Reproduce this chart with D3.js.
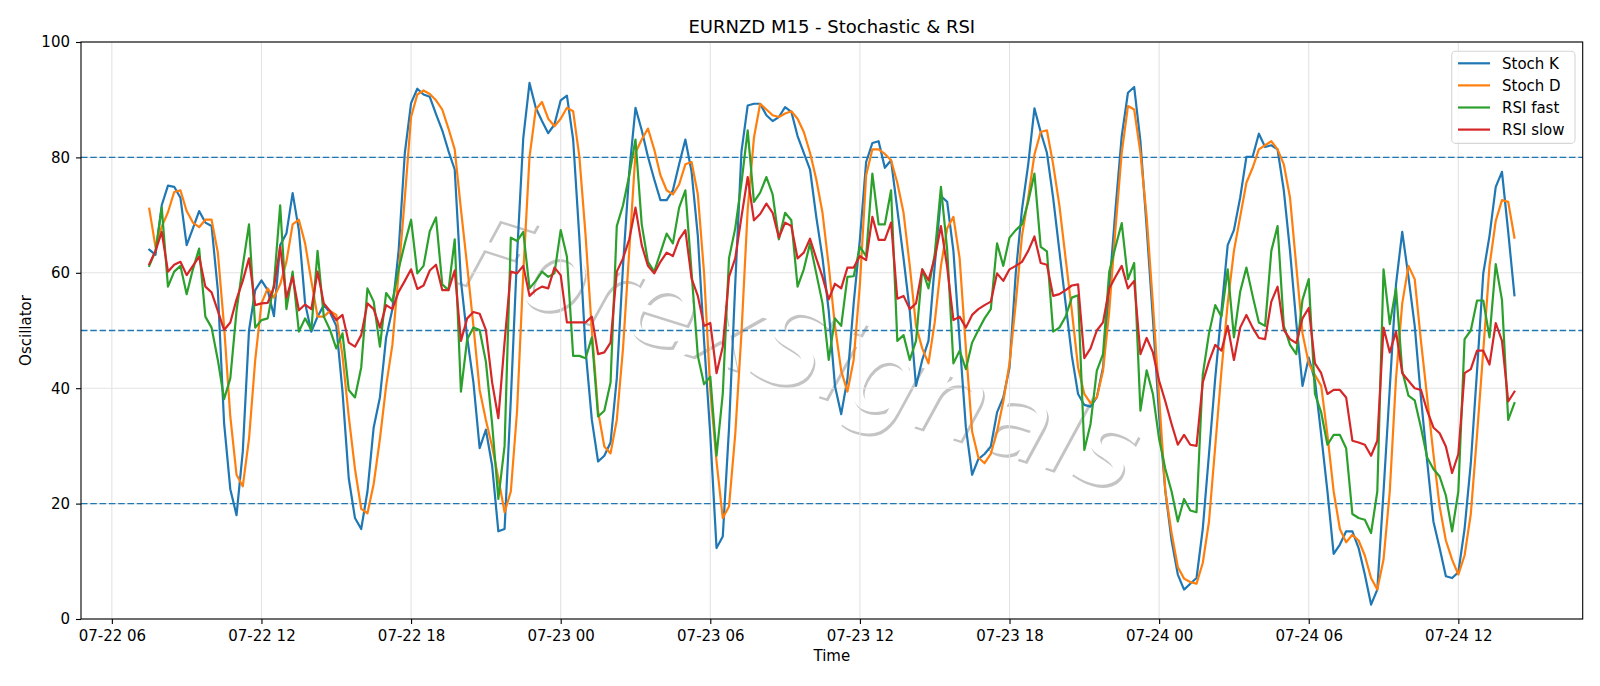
<!DOCTYPE html>
<html><head><meta charset="utf-8">
<script src="https://cdn.jsdelivr.net/npm/d3@7"></script>
<style>
body{margin:0;background:#fff}
svg{display:block}
text{font-family:"DejaVu Sans",sans-serif;fill:#000}
</style>
</head><body><svg id="chart" width="1600" height="686"></svg>
<script>
// ---------------- data ----------------
const startTime = "2024-07-22T07:30:00Z";
const stepMinutes = 15;
const stochK = [64.0,63.1,71.7,75.1,74.9,73.0,64.8,67.7,70.7,68.7,68.1,57,34,22.5,18,29,50,57,58.7,57,
52.5,64.8,66.8,73.8,67.4,54.7,49.8,52.4,54.4,53.1,50.8,39.4,24.4,17.5,15.6,22.1,33.2,38.4,48.8,53.7,
63.8,80.8,89.4,91.9,90.9,90.5,87.5,84.7,81.1,77.9,58.6,48.8,41.0,29.6,32.8,26.6,15.2,15.6,38,63,
83.4,92.9,88.6,86.3,84.2,85.7,89.9,90.7,83.1,66,46.5,34.5,27.3,28.3,30.6,41.7,61.2,77.5,88.6,84.7,
80.1,76.2,72.6,72.6,74.3,78.8,83.1,77.5,66.4,48.2,31.9,12.3,14.3,33,58,81,89,89.3,89.3,87.3,
86.3,87.0,88.7,87.9,83.7,80.8,77.9,69.7,62.6,53.4,40.4,35.5,41.6,54.7,65.8,79.2,82.5,82.8,78.2,79.5,
71.0,62.5,53.4,40.4,44.9,48.2,61.2,73.3,72.3,63.8,48.2,33.2,25.0,27.7,28.6,29.9,35.8,38.4,43.6,59.9,
71.0,78.8,88.5,84.4,80.8,73.0,63.8,54.7,45.6,39.0,37.1,36.8,38.4,43.6,57.3,71.0,83.7,91.2,92.2,82.8,
67.8,52.1,35.1,22.1,13.6,7.7,5.1,6.1,7.1,15.6,28.6,41.7,53.4,64.8,67.4,73.0,80.1,80.1,84.1,81.8,
82.1,81.4,74.3,63.8,51.4,40.4,45.3,41.3,31.9,22.1,11.3,12.9,15.2,15.2,12.3,7.7,2.5,5.1,22.1,40,
58,67.1,59.3,50.8,38.4,27.3,16.9,12.3,7.4,7.1,8.1,15.6,27,43,59.9,66.4,74.9,77.5,67.1,56.1];
const stochD = [71.1,64.5,68.0,70.5,74.0,74.3,70.7,68.7,67.9,69.2,69.2,63.5,50.8,35.1,25.0,23.0,31.2,44.9,54.7,57.3,
55.7,58.0,61.9,68.4,69.2,65.1,58.6,52.4,52.4,53.4,52.7,45.6,35.1,26.0,19.1,18.3,23.4,31.2,40.4,47.5,
59.9,73.0,87.0,90.9,91.6,91.0,89.9,88.3,85.0,81.4,71.0,61.2,50.8,39.7,34.5,29.9,24.4,18.5,22.1,36,
60,80.1,88.3,89.6,86.7,85.4,86.7,88.6,88.0,80.1,66.4,50,36,29.9,28.7,34.5,46.9,63.8,80.8,83.1,
85.0,81.4,76.9,74.3,73.6,75.3,78.8,79.2,73.6,60.0,39.7,27.3,17.5,19.5,32,49.5,71.0,83.4,89.3,88.3,
87.3,87.0,87.6,88.0,86.7,84.4,80.8,76.2,70.4,61.2,50.8,43.0,39.4,44.9,58.0,76.9,81.4,81.4,80.6,79.5,
75.6,70.4,61.2,50.8,46.9,44.3,51.4,61.2,67.7,69.7,62.5,46.9,32.5,28.0,27.0,28.6,32.5,37.7,44.3,54.7,
66.4,73.0,80.5,84.4,84.7,78.8,71.7,62.5,53.4,43.6,39.0,37.4,38.4,43.0,53.4,67.7,80.8,88.9,88.3,80.8,
69.7,54.7,38.4,22.1,14.9,9.0,7.0,6.4,6.1,9.7,16.9,29.9,43.0,54.7,63.8,69.7,75.6,78.2,81.4,82.1,
82.8,81.4,78.8,73.0,61.2,49.5,44.3,42.3,40.4,31.9,22.1,15.6,13.3,14.6,13.6,11.0,7.1,5.1,10.3,22.1,
41.7,54.7,61.2,58.9,48.2,38.4,28.6,19.5,13.6,10.3,7.7,11.0,18.2,31.9,46.5,61.2,69.0,72.6,72.3,66.1];
const rsiFast = [61.2,63.8,71.3,57.6,60.2,61.2,56.3,60.6,64.2,52.4,50.5,44.9,38.1,41.7,53.4,61.2,68.4,50.5,51.8,52.1,
58,71.7,53.7,60.2,49.8,52.1,50.1,63.8,52.4,50.1,46.9,49.5,39.7,38.4,43.6,57.3,55.0,47.2,56.5,55.0,
60.6,65.1,69.2,59.9,61.2,67.2,69.6,58.0,57.0,65.8,39.4,48.5,50.5,50.1,44.6,33.8,20.8,30,66.1,65.5,
67.1,57.3,58.6,60.2,59.3,59.9,67.4,62.8,45.6,45.6,45.2,48.8,35.1,36.1,41.0,68.1,71.7,76.9,83.1,68.4,
61.9,60.2,63.5,66.8,65.1,71.3,74.3,60,45.6,40.7,42.0,28.3,39.0,62.5,67.7,75.6,84.7,72.3,73.9,76.6,
73.6,65.8,70.4,69.1,57.6,60.6,65.1,59.9,54.7,44.9,52.1,50.8,59.3,59.4,64.5,62.9,77.2,68.4,68.4,74.3,
48.2,49.2,44.9,48.2,60.6,57.3,63.2,74.9,64,44.3,46.5,43.3,47.9,50.1,52.1,53.7,65.1,61.2,66.1,67.4,
68.4,72.3,77.2,64.5,63.7,49.8,50.5,52.4,55.7,56.1,29.3,33.8,43.0,45.9,60.2,64.5,68.6,58.9,61.7,36.1,
43.1,39.0,31.2,26.0,22.1,16.9,20.8,18.8,18.5,42.3,49.5,54.4,52.4,60.6,48.8,56.7,60.9,56.0,51.4,50.8,
63.8,68.1,50.8,47.5,45.9,55.3,58.9,39.0,35.8,30.2,31.9,31.9,29.6,18.2,17.5,17.2,14.9,22.1,60.6,51.1,
57.3,43.0,38.7,37.9,33.2,28,26.0,24.7,21.4,15.2,22.1,48.5,50,55.2,55.2,48.8,61.5,55.3,34.5,37.4];
const rsiSlow = [61.5,63.8,67.1,60.2,61.4,61.9,59.6,61.2,62.8,57.6,56.6,53.4,50.1,51.4,55.4,58.6,62.5,54.4,54.7,54.8,
57.5,64.5,55.7,59.3,53.5,54.5,53.7,60.2,54.7,53.4,51.8,52.7,47.9,47.2,49.2,54.7,53.7,50.5,54.4,53.7,
56.7,58.6,60.6,57.2,57.8,60.4,61.4,57.0,57.0,60.4,48.2,52.1,53.2,52.9,50.1,41.0,34.8,48,60.2,59.9,
61.2,56.0,57.0,57.6,57.3,60.9,59.6,51.4,51.4,51.4,51.4,52.4,45.9,46.2,47.9,60.2,62.5,65.8,71.3,64.8,
61.2,59.9,61.9,63.5,62.9,65.8,67.4,59,56.0,50.8,51.3,42.6,47.2,59.3,62.5,69.7,76.6,69.1,70.2,72.0,
70.4,66.1,68.7,68.1,62.5,63.5,65.9,62.5,59.3,55.4,58.1,57.3,60.9,60.9,62.9,62.2,69.7,65.7,65.7,68.7,
55.5,56.0,53.7,54.7,60.6,58.7,62.5,68.1,61,51.8,52.4,50.5,52.7,53.7,54.4,55.0,59.9,58.6,60.6,61.2,
61.9,63.8,66.3,61.7,61.4,56.0,56.3,57.0,57.8,58.0,45.2,46.9,50.0,51.4,57.3,59.3,61.2,57.3,58.6,45.9,
48.7,46.2,41.3,37.7,33.8,30.2,31.9,30.2,30.0,41.0,44.6,47.5,46.5,50.8,44.9,50.5,52.7,50.5,48.7,48.5,
55.0,57.6,50.1,48.5,47.8,52.1,53.9,44.3,42.6,39.0,39.7,39.7,38.4,30.9,30.6,30.2,28.3,30.9,50.5,46.2,
49.8,42.6,41.3,40.0,39.7,36.1,33.2,32.2,29.9,25.3,28.6,42.6,43.3,46.5,46.5,44.1,51.3,48.2,37.7,39.4];
const levelLines = [20, 50, 80];
const yTickValues = [0, 20, 40, 60, 80, 100];
const seriesNames = ["Stoch K", "Stoch D", "RSI fast", "RSI slow"];
const titleText = "EURNZD M15 - Stochastic & RSI";
const xLabelText = "Time";
const yLabelText = "Oscillator";
const watermarkText = "ForexSignals";

// ---------------- chart ----------------
const W = 1600, H = 686;
const m = {left: 81, right: 17.3, top: 42, bottom: 67};
const colors = ["#1f77b4", "#ff7f0e", "#2ca02c", "#d62728"];
const svg = d3.select("#chart");

const t0 = new Date(startTime).getTime();
const times = stochK.map((_, i) => new Date(t0 + i * stepMinutes * 60000));
const ext = d3.extent(times);
const pad = (ext[1] - ext[0]) * 0.05;
const x = d3.scaleUtc().domain([new Date(+ext[0] - pad), new Date(+ext[1] + pad)]).range([m.left, W - m.right]);
const y = d3.scaleLinear().domain([0, 100]).range([H - m.bottom, m.top]);

const xTicks = x.ticks(d3.utcHour.every(6));

// watermark
const wm = svg.append("g").attr("transform", "translate(788,386) rotate(17.5)");
wm.append("text").attr("x", 2.5).attr("y", 2.5).attr("text-anchor", "middle")
  .style("font-size", "110px").style("font-style", "italic").style("fill", "#8a8a8a").style("opacity", 0.5)
  .text(watermarkText);
wm.append("text").attr("x", 0).attr("y", 0).attr("text-anchor", "middle")
  .style("font-size", "110px").style("font-style", "italic").style("fill", "#ffffff")
  .text(watermarkText);

// grid
const grid = svg.append("g");
grid.selectAll(".vg").data(xTicks).join("line")
  .attr("x1", d => x(d)).attr("x2", d => x(d)).attr("y1", y(0)).attr("y2", y(100))
  .attr("stroke", "#e3e3e3").attr("stroke-width", 1.1);
grid.selectAll(".hg").data(yTickValues).join("line")
  .attr("x1", m.left).attr("x2", W - m.right).attr("y1", d => y(d)).attr("y2", d => y(d))
  .attr("stroke", "#e3e3e3").attr("stroke-width", 1.1);

// level lines
svg.append("g").selectAll("line").data(levelLines).join("line")
  .attr("x1", m.left).attr("x2", W - m.right).attr("y1", d => y(d)).attr("y2", d => y(d))
  .attr("stroke", "#1f77b4").attr("stroke-width", 1.4).attr("stroke-dasharray", "6.5,2.8");

// series
const allSeries = [stochK, stochD, rsiFast, rsiSlow];
const line = d3.line().x((d, i) => x(times[i])).y(d => y(d));
svg.append("g").selectAll("path").data(allSeries).join("path")
  .attr("d", d => line(d)).attr("fill", "none")
  .attr("stroke", (d, i) => colors[i]).attr("stroke-width", 2.2)
  .attr("stroke-linejoin", "round").attr("stroke-linecap", "square");

// frame
svg.append("rect").attr("x", m.left).attr("y", m.top)
  .attr("width", W - m.right - m.left).attr("height", H - m.bottom - m.top)
  .attr("fill", "none").attr("stroke", "#000").attr("stroke-width", 1.1);

// axes
const xAxis = svg.append("g").attr("transform", `translate(0,${H - m.bottom})`)
  .call(d3.axisBottom(x).tickValues(xTicks).tickFormat(d3.utcFormat("%m-%d %H")).tickSize(5).tickPadding(6));
const yAxis = svg.append("g").attr("transform", `translate(${m.left},0)`)
  .call(d3.axisLeft(y).tickValues(yTickValues).tickSize(5).tickPadding(6));
[xAxis, yAxis].forEach(a => {
  a.select(".domain").remove();
  a.selectAll(".tick line").attr("stroke", "#000").attr("stroke-width", 1.1);
  a.selectAll(".tick text").style("font-size", "15px").style("font-family", "DejaVu Sans").attr("fill", "#000");
});

// titles
svg.append("text").attr("x", (m.left + W - m.right) / 2).attr("y", 33).attr("text-anchor", "middle")
  .style("font-size", "18px").text(titleText);
svg.append("text").attr("x", (m.left + W - m.right) / 2).attr("y", 661).attr("text-anchor", "middle")
  .style("font-size", "15px").text(xLabelText);
svg.append("text").attr("transform", `translate(31,${(m.top + H - m.bottom) / 2}) rotate(-90)`)
  .attr("text-anchor", "middle").style("font-size", "15px").text(yLabelText);

// legend
const lg = svg.append("g");
lg.append("rect").attr("x", 1451.7).attr("y", 51.3).attr("width", 123.3).attr("height", 92.1)
  .attr("rx", 4).attr("fill", "#fff").attr("fill-opacity", 0.8).attr("stroke", "#d6d6d6").attr("stroke-width", 1.1);
const rows = lg.selectAll("g").data(seriesNames).join("g")
  .attr("transform", (d, i) => `translate(0,${63.3 + i * 22.1})`);
rows.append("line").attr("x1", 1458).attr("x2", 1490).attr("y1", 0).attr("y2", 0)
  .attr("stroke", (d, i) => colors[i]).attr("stroke-width", 2.2);
rows.append("text").attr("x", 1502).attr("y", 0).attr("dy", "0.35em")
  .style("font-size", "15px").text(d => d);
</script>
</body></html>
